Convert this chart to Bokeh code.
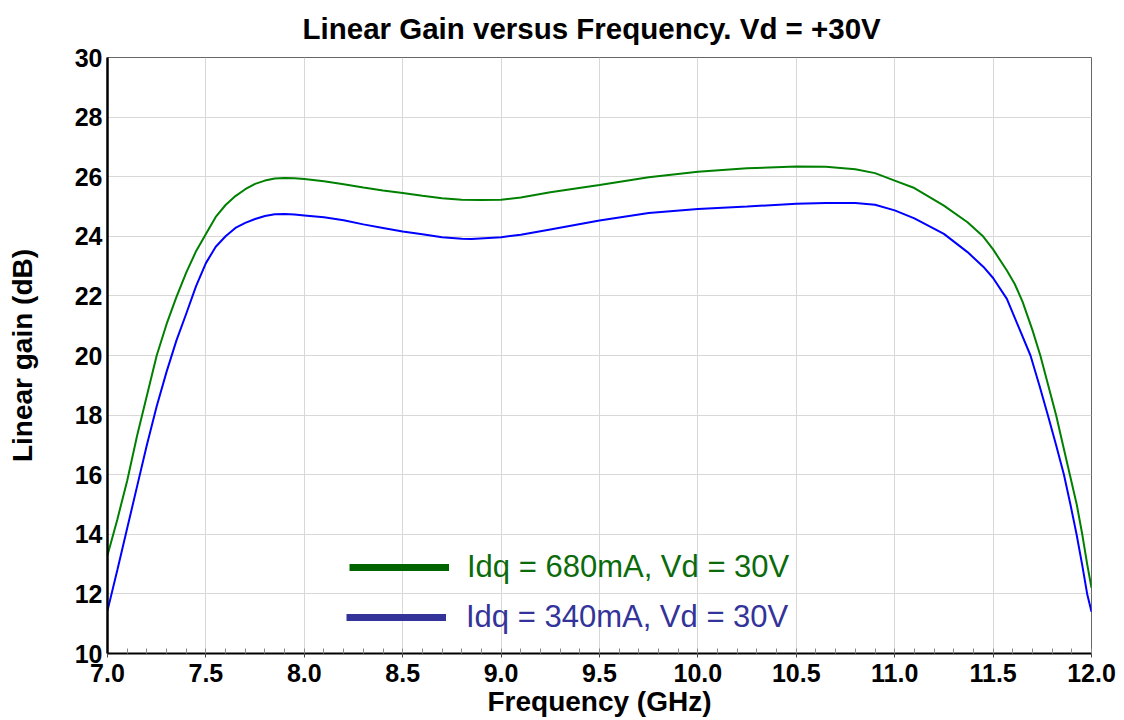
from bokeh.plotting import figure
from bokeh.models import (Range1d, SingleIntervalTicker, PrintfTickFormatter,
                          Legend, LegendItem, ColumnDataSource)
from bokeh.embed import file_html
from bokeh.resources import INLINE

# ---- data ----
freq_680 = [7.00, 7.05, 7.10, 7.15, 7.20, 7.25, 7.30, 7.35, 7.40, 7.45, 7.50,
            7.55, 7.60, 7.65, 7.70, 7.75, 7.80, 7.85, 7.90, 7.95, 8.00, 8.10,
            8.20, 8.30, 8.40, 8.50, 8.60, 8.70, 8.80, 8.90, 9.00, 9.10, 9.25,
            9.50, 9.75, 10.00, 10.25, 10.50, 10.65, 10.80, 10.90, 11.00, 11.10,
            11.25, 11.37, 11.45, 11.50, 11.57, 11.61, 11.65, 11.70, 11.74, 11.78,
            11.82, 11.855, 11.89, 11.925, 11.953, 11.978, 12.00]
gain_680 = [13.3, 14.5, 15.8, 17.3, 18.65, 20.0, 21.05, 21.96, 22.78, 23.5, 24.08,
            24.65, 25.05, 25.35, 25.58, 25.76, 25.87, 25.94, 25.96, 25.95, 25.92, 25.85,
            25.75, 25.64, 25.54, 25.45, 25.36, 25.28, 25.23, 25.22, 25.23, 25.30, 25.48,
            25.72, 25.98, 26.17, 26.28, 26.34, 26.33, 26.25, 26.12, 25.87, 25.62,
            25.03, 24.47, 23.99, 23.56, 22.85, 22.4, 21.8, 20.85, 20.0, 19.0,
            18.0, 17.0, 16.0, 15.0, 14.0, 13.0, 12.2]

freq_340 = [7.00, 7.05, 7.10, 7.15, 7.20, 7.25, 7.30, 7.35, 7.40, 7.45, 7.50,
            7.55, 7.60, 7.65, 7.70, 7.75, 7.80, 7.85, 7.90, 7.95, 8.00, 8.10,
            8.20, 8.30, 8.40, 8.50, 8.60, 8.70, 8.80, 8.85, 9.00, 9.10, 9.25,
            9.50, 9.75, 10.00, 10.25, 10.50, 10.65, 10.80, 10.90, 11.00, 11.10,
            11.25, 11.37, 11.45, 11.50, 11.57, 11.63, 11.69, 11.735, 11.778,
            11.82, 11.86, 11.893, 11.924, 11.952, 11.978, 12.00]
gain_340 = [11.44, 12.8, 14.2, 15.6, 17.0, 18.3, 19.45, 20.5, 21.4, 22.33, 23.1,
            23.65, 24.0, 24.28, 24.45, 24.58, 24.68, 24.74, 24.75, 24.73, 24.70, 24.64,
            24.54, 24.40, 24.28, 24.16, 24.07, 23.97, 23.92, 23.91, 23.97, 24.05, 24.23,
            24.53, 24.78, 24.92, 25.00, 25.09, 25.12, 25.12, 25.06, 24.87, 24.60,
            24.08, 23.47, 22.98, 22.6, 21.9, 20.95, 20.0, 19.0, 18.0,
            17.0, 16.0, 15.0, 14.0, 13.0, 12.0, 11.4]

title_text = "Linear Gain versus Frequency. Vd = +30V"
series_labels = ["Idq = 680mA, Vd = 30V", "Idq = 340mA, Vd = 30V"]
x_ticks_interval = 0.5
y_ticks_interval = 2

FONT = "Liberation Sans"

p = figure(width=1124, height=720, output_backend="svg", toolbar_location=None,
           x_range=Range1d(7, 12), y_range=Range1d(10, 30),
           min_border_left=107, min_border_right=33,
           min_border_top=57, min_border_bottom=67,
           background_fill_color="white", border_fill_color="white")

p.title.text = title_text
p.title.align = "left"
p.title.offset = 195
p.title.text_font = FONT
p.title.text_font_size = "29.5px"
p.title.text_font_style = "bold"
p.title.text_color = "black"
p.title.standoff = 22
p.title.vertical_align = "top"

p.outline_line_color = "#666666"
p.outline_line_width = 1

# axes
xa = p.xaxis[0]
xa.ticker = SingleIntervalTicker(interval=x_ticks_interval, num_minor_ticks=5)
xa.formatter = PrintfTickFormatter(format="%.1f")
xa.axis_label = "Frequency (GHz)"
xa.axis_label_text_font = FONT
xa.axis_label_text_font_size = "28px"
xa.axis_label_text_font_style = "bold"
xa.axis_label_text_color = "black"
xa.axis_label_standoff = 1
xa.major_label_text_font = FONT
xa.major_label_text_font_size = "25px"
xa.major_label_text_font_style = "bold"
xa.major_label_text_color = "black"
xa.major_label_standoff = 6
xa.axis_line_color = "black"
xa.axis_line_width = 2
xa.major_tick_out = 4
xa.major_tick_in = 0
xa.minor_tick_in = 5
xa.minor_tick_out = 0
xa.major_tick_line_color = "#444444"
xa.minor_tick_line_color = "#888888"

ya = p.yaxis[0]
ya.ticker = SingleIntervalTicker(interval=y_ticks_interval, num_minor_ticks=0)
ya.axis_label = "Linear gain (dB)"
ya.axis_label_text_font = FONT
ya.axis_label_text_font_size = "28px"
ya.axis_label_text_font_style = "bold"
ya.axis_label_text_color = "black"
ya.axis_label_standoff = 34
ya.major_label_text_font = FONT
ya.major_label_text_font_size = "25px"
ya.major_label_text_font_style = "bold"
ya.major_label_text_color = "black"
ya.major_label_standoff = 5
ya.axis_line_color = "black"
ya.axis_line_width = 2.5
ya.major_tick_out = 0
ya.major_tick_in = 0
ya.minor_tick_out = 0

p.xgrid.grid_line_color = "#d8d8d8"
p.ygrid.grid_line_color = "#d8d8d8"
p.xgrid.grid_line_width = 1
p.ygrid.grid_line_width = 1

# curves
src680 = ColumnDataSource(dict(x=freq_680, y=gain_680))
src340 = ColumnDataSource(dict(x=freq_340, y=gain_340))
p.line("x", "y", source=src680, line_color="#008000", line_width=2)
p.line("x", "y", source=src340, line_color="#0000ff", line_width=2)

# legend proxies (no visible data, only for legend appearance)
nan = float("nan")
leg_g = p.line(x=[nan], y=[nan], line_color="#006400", line_width=7)
leg_b = p.line(x=[nan], y=[nan], line_color="#333399", line_width=7)

def make_legend(renderer, label, color, loc, standoff):
    lg = Legend(items=[LegendItem(label=label, renderers=[renderer])],
                location=loc, orientation="vertical",
                glyph_width=100, glyph_height=40, label_height=40,
                label_standoff=standoff, padding=0, margin=0, spacing=0,
                label_text_font=FONT, label_text_font_size="31px",
                label_text_color=color,
                background_fill_alpha=0, border_line_alpha=0)
    return lg

p.add_layout(make_legend(leg_g, series_labels[0], "#0b6b0b", (242, 66), 18))
p.add_layout(make_legend(leg_b, series_labels[1], "#333399", (239, 16), 20))

open("out.html", "w").write(file_html(p, INLINE))
